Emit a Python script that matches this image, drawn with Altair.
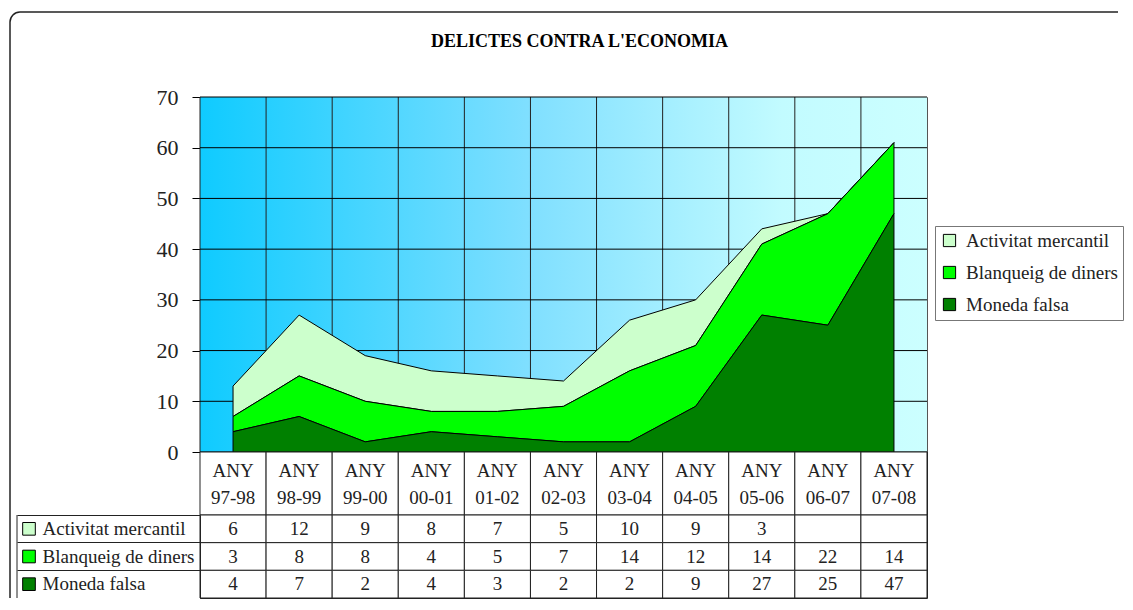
import altair as alt
import pandas as pd

# ---------------- data ----------------
title_text = "DELICTES CONTRA L'ECONOMIA"
year_prefix = "ANY"
years = ["97-98", "98-99", "99-00", "00-01", "01-02", "02-03",
         "03-04", "04-05", "05-06", "06-07", "07-08"]
series = ["Activitat mercantil", "Blanqueig de diners", "Moneda falsa"]
activitat = [6, 12, 9, 8, 7, 5, 10, 9, 3, None, None]
blanqueig = [3, 8, 8, 4, 5, 7, 14, 12, 14, 22, 14]
moneda = [4, 7, 2, 4, 3, 2, 2, 9, 27, 25, 47]
series_colors = ["#CCFFCC", "#00FF00", "#008000"]
y_ticks = [0, 10, 20, 30, 40, 50, 60, 70]

values = {series[0]: activitat, series[1]: blanqueig, series[2]: moneda}
stack_rank = {series[0]: 2, series[1]: 1, series[2]: 0}

rows = []
for s, col in zip(series, series_colors):
    for yr, v in zip(years, values[s]):
        rows.append({
            "year": yr,
            "series": s,
            "value": 0 if v is None else v,
            "text": "" if v is None else str(v),
            "rank": stack_rank[s],
            "color": col,
        })
df = pd.DataFrame(rows)
hdr_df = pd.DataFrame({"year": years, "label": [f"{year_prefix}\n{y}" for y in years]})
sw_df = pd.DataFrame({"series": series, "color": series_colors})
tick_df = pd.DataFrame({"value": y_ticks})
one_df = pd.DataFrame({"k": [0]})

# ---------------- layout / style ----------------
SERIF = "Liberation Serif"
INK = "#222222"
W, H_TOP, H_HDR, H_BODY = 727, 355, 63, 83

band = alt.Scale(type="band", paddingInner=0, paddingOuter=0, domain=years)
y_scale = alt.Scale(domain=[0, 70], nice=False, zero=True)

gradient = alt.LinearGradient(
    gradient="linear", x1=0, y1=0, x2=1, y2=0,
    stops=[
        alt.GradientStop(color="#0FCBFF", offset=0),
        alt.GradientStop(color="#7FDFFF", offset=0.45),
        alt.GradientStop(color="#C2FBFF", offset=0.8),
        alt.GradientStop(color="#CCFFFF", offset=1),
    ],
)

x_axis_top = alt.Axis(labels=False, ticks=False, grid=False,
                      domainColor="black", domainWidth=1.5)
y_axis_top = alt.Axis(values=y_ticks, grid=False, tickSize=8, tickColor="black",
                      domainColor="black", labelFont=SERIF, labelFontSize=22,
                      labelColor=INK, labelPadding=14)

# ---------------- top: stacked area ----------------
bg = alt.Chart(one_df).mark_rect(fill=gradient).encode(
    x=alt.value(0), x2=alt.value(W), y=alt.value(0), y2=alt.value(H_TOP))

vgrid = alt.Chart(hdr_df).mark_rule(color=INK, strokeWidth=1).encode(
    x=alt.X("year:N", sort=years, scale=band, bandPosition=0, title=None,
            axis=x_axis_top))

hgrid = alt.Chart(tick_df).mark_rule(color="black", strokeWidth=1).encode(
    y=alt.Y("value:Q", scale=y_scale, title=None, axis=y_axis_top))

area = alt.Chart(df).mark_area(stroke="black", strokeWidth=1, opacity=1).encode(
    x=alt.X("year:N", sort=years, scale=band, bandPosition=0.5, title=None,
            axis=x_axis_top),
    y=alt.Y("value:Q", stack="zero", title=None, scale=y_scale, axis=y_axis_top),
    color=alt.Color("series:N", sort=series,
                    scale=alt.Scale(domain=series, range=series_colors),
                    legend=alt.Legend(orient="none", legendX=735, legendY=129,
                                      title=None, symbolType="square", symbolSize=150,
                                      symbolStrokeColor="black", symbolStrokeWidth=1,
                                      symbolOpacity=1, labelFont=SERIF,
                                      labelFontSize=19, labelColor=INK, labelLimit=0,
                                      labelOffset=7, rowPadding=12, padding=5,
                                      strokeColor="#777777", fillColor="white")),
    order=alt.Order("rank:Q", sort="ascending"),
)

top = alt.layer(bg, vgrid, hgrid, area).properties(
    width=W, height=H_TOP,
    title=alt.Title(title_text, font=SERIF, fontSize=18, fontWeight="bold",
                    anchor="middle", dx=16, offset=35, color="black"),
    view=alt.ViewBackground(stroke="#555555"),
)

# ---------------- header row ----------------
hdr_base = alt.Chart(hdr_df).encode(
    x=alt.X("year:N", sort=years, scale=band, axis=None)
)
hdr = alt.layer(
    hdr_base.mark_rect(fill="white", stroke=INK, strokeWidth=1).encode(
        y=alt.value(0), y2=alt.value(H_HDR)),
    hdr_base.mark_text(font=SERIF, fontSize=19, lineBreak="\n", lineHeight=27,
                       baseline="middle", color=INK).encode(
        text="label:N", y=alt.value(19)),
).properties(width=W, height=H_HDR, view=alt.ViewBackground(stroke=INK))

# ---------------- data table body ----------------
y_body = alt.Y("series:N", sort=series, title=None,
               scale=alt.Scale(type="band", paddingInner=0, paddingOuter=0, domain=series),
               axis=alt.Axis(bandPosition=0, tickSize=183, tickColor=INK,
                             labelAlign="left", labelPadding=-25,
                             labelBaseline="middle", labelFont=SERIF,
                             labelFontSize=19, labelColor=INK, labelLimit=0,
                             domainColor=INK))
x_body = alt.X("year:N", sort=years, scale=band, axis=None)

body_rect = alt.Chart(df).mark_rect(fill="white", stroke=INK, strokeWidth=1).encode(
    x=x_body, y=y_body)
body_text = alt.Chart(df).mark_text(font=SERIF, fontSize=19, color=INK,
                                    baseline="middle").encode(
    x=x_body, y=y_body, text="text:N")
swatch = alt.Chart(sw_df).mark_square(size=160, opacity=1, stroke="black",
                                      strokeWidth=1, filled=True).encode(
    x=alt.value(-171), y=y_body, fill=alt.Fill("color:N", scale=None))
left_rule = alt.Chart(one_df).mark_rule(color=INK, strokeWidth=1).encode(
    x=alt.value(-183), y=alt.value(0), y2=alt.value(H_BODY))

# outer rounded frame (top and left edges; right/bottom lie outside the picture)
frame_left = alt.Chart(one_df).mark_rule(color=INK, strokeWidth=1.5).encode(
    x=alt.value(-190), y=alt.value(-493), y2=alt.value(H_BODY))
frame_top = alt.Chart(one_df).mark_rule(color=INK, strokeWidth=1.5).encode(
    x=alt.value(-180), x2=alt.value(918), y=alt.value(-503))
frame_corner = alt.Chart(one_df).mark_arc(
    radius=10.75, innerRadius=9.25, theta=4.712389, theta2=6.283185, color=INK
).encode(x=alt.value(-180), y=alt.value(-493))

body = alt.layer(body_rect, body_text, swatch, left_rule,
                 frame_left, frame_top, frame_corner).properties(
    width=W, height=H_BODY, view=alt.ViewBackground(stroke=INK))

chart = alt.vconcat(top, hdr, body, spacing=0, bounds="flush").properties(
    padding={"left": 0, "top": 2, "right": 0, "bottom": 0},
).configure(background="white")

chart.save("out.html", embed_options={"renderer": "svg", "actions": False})
